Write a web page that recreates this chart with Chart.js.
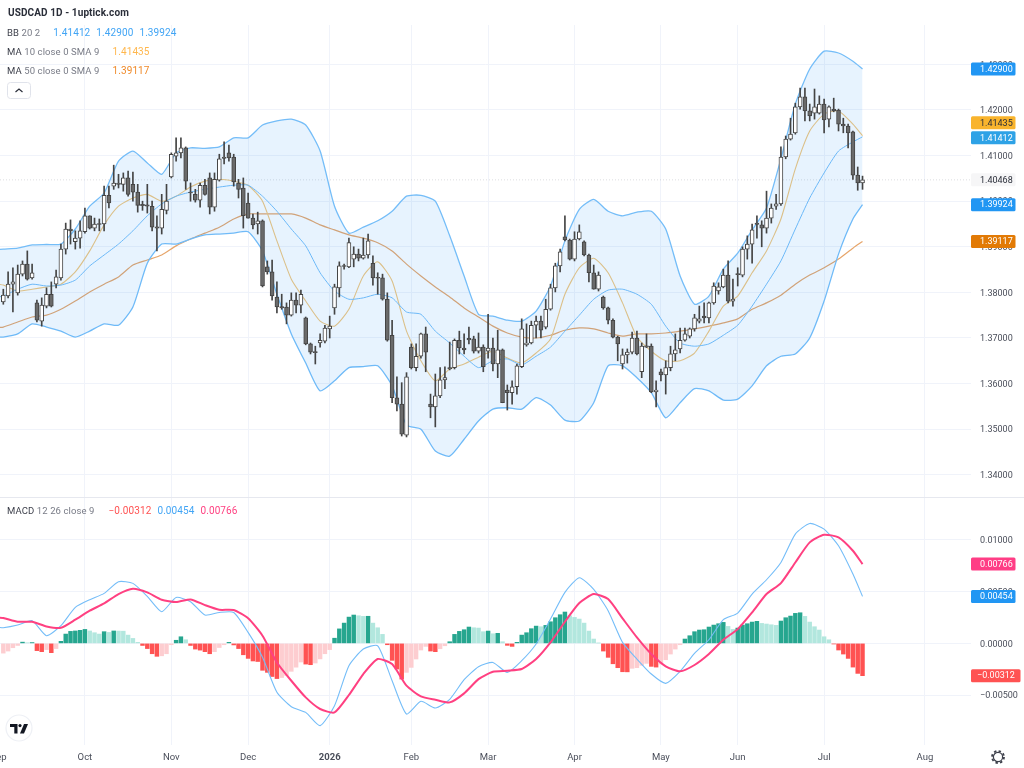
<!DOCTYPE html>
<html>
<head>
<meta charset="utf-8">
<title>USDCAD 1D</title>
<script src="https://cdn.jsdelivr.net/npm/chart.js@4"></script>
<style>
  html, body { margin: 0; padding: 0; background: #fff; }
  body { width: 1024px; height: 768px; position: relative; overflow: hidden; font-family: Roboto, sans-serif; }
  canvas { position: absolute; left: 0; }
  #priceChart { top: 0; }
  #macdChart { top: 497px; }
  .divider { position: absolute; left: 0; top: 497px; width: 1024px; height: 1px; background: #e6e8ef; }
  .legend { position: absolute; left: 7px; font-size: 9.5px; line-height: 12px; color: #787b86; white-space: pre; letter-spacing: 0.1px; }
  .legend b { font-weight: 400; color: #3c3f4a; }
  .legend span { display: inline-block; font-size: 10px; }
  .title { font-weight: 700; font-size: 10px; color: #2a2e39; left: 8px; top: 7px; }
  svg { position: absolute; }
</style>
</head>
<body>
<canvas id="priceChart" width="1024" height="497"></canvas>
<canvas id="macdChart" width="1024" height="271"></canvas>
<div class="divider"></div>

<div class="legend title">USDCAD 1D - 1uptick.com</div>
<div class="legend" style="top:27px"><b>BB</b> 20 2<span style="color:#42a5f5;margin-left:13px">1.41412</span><span style="color:#42a5f5;margin-left:6px">1.42900</span><span style="color:#42a5f5;margin-left:6px">1.39924</span></div>
<div class="legend" style="top:46px"><b>MA</b> 10 close 0 SMA 9<span style="color:#ffb74d;margin-left:13px">1.41435</span></div>
<div class="legend" style="top:65px"><b>MA</b> 50 close 0 SMA 9<span style="color:#ef8a2a;margin-left:13px">1.39117</span></div>
<div class="legend" style="top:505px"><b>MACD</b> 12 26 close 9<span style="color:#ff5252;margin-left:14px">−0.00312</span><span style="color:#42a5f5;margin-left:6px">0.00454</span><span style="color:#ff4081;margin-left:6px">0.00766</span></div>

<svg style="left:7px;top:82px" width="24" height="17">
  <rect x="0.5" y="0.5" width="23" height="16" rx="3" fill="#fff" stroke="#e0e3eb"/>
  <polyline points="8.5,10 12,7 15.5,10" fill="none" stroke="#2a2e39" stroke-width="1.2"/>
</svg>
<svg style="left:5px;top:714px" width="28" height="28">
  <circle cx="14" cy="14" r="13" fill="#fff" stroke="#eef0f5" stroke-width="1.2"/>
  <path d="M5 10h7.5v9.5h-3.2v-6.4H5z" fill="#131722"/>
  <circle cx="15" cy="11.6" r="1.6" fill="#131722"/>
  <path d="M19 10h4l-4 9.5h-4z" fill="#131722"/>
</svg>
<svg style="left:990px;top:749px" width="16" height="16">
  <circle cx="8" cy="8" r="4.6" fill="none" stroke="#3c3f4a" stroke-width="1.2"/>
  <circle cx="8" cy="8" r="6" fill="none" stroke="#3c3f4a" stroke-width="1.8" stroke-dasharray="2.4 2.3"/>
</svg>

<script>
// daily candles, one entry per session
const opens = [
  1.3779,1.3792,1.3818,1.3799,1.3840,1.3862,1.3832,1.3777,1.3737,1.3770,
  1.3796,1.3818,1.3832,1.3895,1.3939,1.3911,1.3919,1.3933,1.3968,1.3941,
  1.3951,1.3950,1.4013,1.4033,1.4040,1.4037,1.4051,1.4037,1.4020,1.3993,
  1.3992,1.3989,1.3944,1.3941,1.3980,1.4053,1.4099,1.4106,1.4117,1.4020,
  1.4015,1.4002,1.4035,1.4051,1.3987,1.4046,1.4097,1.4106,1.4097,1.4040,
  1.4029,1.3996,1.3963,1.3950,1.3957,1.3856,1.3845,1.3790,1.3769,1.3768,
  1.3750,1.3783,1.3772,1.3744,1.3687,1.3670,1.3689,1.3693,1.3720,1.3766,
  1.3810,1.3859,1.3856,1.3873,1.3884,1.3875,1.3882,1.3864,1.3833,1.3832,
  1.3785,1.3706,1.3569,1.3555,1.3487,1.3680,1.3635,1.3660,1.3709,1.3555,
  1.3549,1.3573,1.3608,1.3635,1.3635,1.3695,1.3678,1.3699,1.3698,1.3671,
  1.3680,1.3671,1.3678,1.3643,1.3674,1.3586,1.3580,1.3593,1.3637,1.3685,
  1.3689,1.3728,1.3737,1.3724,1.3763,1.3810,1.3858,1.3922,1.3915,1.3873,
  1.3917,1.3911,1.3882,1.3843,1.3807,1.3790,1.3766,1.3739,1.3702,1.3643,
  1.3663,1.3669,1.3700,1.3626,1.3683,1.3682,1.3582,1.3626,1.3619,1.3635,
  1.3665,1.3676,1.3695,1.3704,1.3720,1.3737,1.3748,1.3744,1.3777,1.3803,
  1.3812,1.3838,1.3781,1.3841,1.3838,1.3895,1.3906,1.3952,1.3948,1.3941,
  1.3963,1.3989,1.3994,1.4097,1.4136,1.4150,1.4207,1.4229,1.4198,1.4193,
  1.4193,1.4213,1.4180,1.4202,1.4200,1.4169,1.4165,1.4152,1.4057,1.4040
];
const highs = [
  1.3807,1.3845,1.3854,1.3860,1.3869,1.3891,1.3862,1.3783,1.3788,1.3810,
  1.3823,1.3849,1.3906,1.3952,1.3959,1.3935,1.3957,1.3985,1.3968,1.3963,
  1.3961,1.4033,1.4033,1.4079,1.4059,1.4062,1.4066,1.4064,1.4037,1.4000,
  1.4037,1.4000,1.3968,1.4015,1.4037,1.4106,1.4139,1.4139,1.4119,1.4040,
  1.4026,1.4040,1.4048,1.4062,1.4062,1.4103,1.4130,1.4123,1.4103,1.4048,
  1.4051,1.4018,1.3972,1.3976,1.3959,1.3869,1.3871,1.3823,1.3796,1.3777,
  1.3799,1.3799,1.3805,1.3746,1.3689,1.3682,1.3709,1.3728,1.3748,1.3818,
  1.3867,1.3862,1.3919,1.3900,1.3895,1.3919,1.3928,1.3880,1.3843,1.3840,
  1.3799,1.3739,1.3615,1.3602,1.3624,1.3687,1.3687,1.3711,1.3724,1.3577,
  1.3621,1.3635,1.3637,1.3691,1.3698,1.3715,1.3709,1.3724,1.3704,1.3711,
  1.3685,1.3752,1.3700,1.3717,1.3676,1.3597,1.3606,1.3643,1.3742,1.3731,
  1.3737,1.3748,1.3748,1.3785,1.3818,1.3864,1.3895,1.3968,1.3917,1.3933,
  1.3948,1.3913,1.3884,1.3860,1.3845,1.3792,1.3768,1.3742,1.3704,1.3676,
  1.3676,1.3713,1.3715,1.3689,1.3709,1.3687,1.3606,1.3632,1.3650,1.3682,
  1.3709,1.3722,1.3722,1.3722,1.3752,1.3770,1.3777,1.3779,1.3821,1.3821,
  1.3851,1.3869,1.3829,1.3854,1.3900,1.3924,1.3950,1.3968,1.3957,1.4022,
  1.3994,1.4015,1.4119,1.4143,1.4182,1.4215,1.4248,1.4248,1.4213,1.4246,
  1.4231,1.4224,1.4209,1.4226,1.4202,1.4182,1.4169,1.4154,1.4075,1.4055
];
const lows = [
  1.3774,1.3788,1.3757,1.3794,1.3836,1.3827,1.3829,1.3735,1.3726,1.3766,
  1.3768,1.3810,1.3827,1.3884,1.3906,1.3895,1.3897,1.3930,1.3939,1.3935,
  1.3935,1.3935,1.3985,1.4026,1.4029,1.4022,1.4011,1.4000,1.3976,1.3980,
  1.3974,1.3935,1.3891,1.3928,1.3972,1.4051,1.4088,1.4095,1.4026,1.4000,
  1.3998,1.3987,1.4013,1.3972,1.3978,1.4044,1.4082,1.4088,1.4033,1.4007,
  1.3941,1.3963,1.3939,1.3928,1.3812,1.3840,1.3783,1.3755,1.3763,1.3731,
  1.3748,1.3755,1.3755,1.3685,1.3665,1.3643,1.3680,1.3689,1.3700,1.3752,
  1.3790,1.3851,1.3854,1.3856,1.3869,1.3873,1.3875,1.3816,1.3796,1.3783,
  1.3693,1.3558,1.3540,1.3485,1.3483,1.3632,1.3628,1.3656,1.3626,1.3525,
  1.3505,1.3569,1.3589,1.3630,1.3632,1.3665,1.3665,1.3687,1.3667,1.3667,
  1.3626,1.3656,1.3628,1.3613,1.3558,1.3542,1.3555,1.3577,1.3635,1.3682,
  1.3687,1.3700,1.3700,1.3720,1.3761,1.3801,1.3845,1.3913,1.3871,1.3869,
  1.3915,1.3880,1.3823,1.3807,1.3803,1.3763,1.3731,1.3700,1.3650,1.3632,
  1.3645,1.3665,1.3663,1.3613,1.3679,1.3580,1.3549,1.3606,1.3577,1.3628,
  1.3650,1.3667,1.3693,1.3700,1.3715,1.3733,1.3733,1.3733,1.3774,1.3796,
  1.3810,1.3777,1.3770,1.3814,1.3834,1.3873,1.3864,1.3919,1.3900,1.3930,
  1.3952,1.3982,1.3991,1.4093,1.4134,1.4147,1.4202,1.4176,1.4176,1.4180,
  1.4191,1.4150,1.4163,1.4196,1.4154,1.4150,1.4117,1.4048,1.4024,1.4026
];
const closes = [
  1.3794,1.3818,1.3823,1.3840,1.3862,1.3829,1.3843,1.3739,1.3772,1.3796,
  1.3770,1.3834,1.3895,1.3939,1.3935,1.3919,1.3935,1.3968,1.3941,1.3950,
  1.3949,1.4013,1.3996,1.4040,1.4037,1.4051,1.4015,1.4020,1.3991,1.3990,
  1.3989,1.3943,1.3941,1.3982,1.4000,1.4103,1.4106,1.4117,1.4044,1.4018,
  1.4002,1.4035,1.4015,1.3987,1.4048,1.4093,1.4094,1.4095,1.4042,1.4026,
  1.3968,1.3963,1.3948,1.3957,1.3814,1.3845,1.3792,1.3768,1.3766,1.3750,
  1.3783,1.3772,1.3796,1.3687,1.3669,1.3668,1.3695,1.3722,1.3726,1.3812,
  1.3858,1.3857,1.3909,1.3884,1.3875,1.3882,1.3913,1.3832,1.3831,1.3785,
  1.3695,1.3569,1.3555,1.3489,1.3615,1.3635,1.3660,1.3709,1.3669,1.3549,
  1.3573,1.3608,1.3613,1.3632,1.3695,1.3678,1.3674,1.3696,1.3671,1.3680,
  1.3637,1.3678,1.3643,1.3674,1.3558,1.3580,1.3593,1.3639,1.3720,1.3689,
  1.3728,1.3737,1.3717,1.3763,1.3810,1.3858,1.3889,1.3915,1.3873,1.3917,
  1.3933,1.3882,1.3843,1.3807,1.3838,1.3766,1.3739,1.3702,1.3687,1.3663,
  1.3669,1.3700,1.3665,1.3682,1.3680,1.3582,1.3586,1.3619,1.3635,1.3665,
  1.3674,1.3695,1.3709,1.3720,1.3744,1.3742,1.3744,1.3777,1.3814,1.3812,
  1.3838,1.3781,1.3785,1.3839,1.3895,1.3906,1.3937,1.3949,1.3941,1.3963,
  1.3985,1.3994,1.4097,1.4136,1.4147,1.4207,1.4229,1.4198,1.4187,1.4207,
  1.4213,1.4178,1.4207,1.4198,1.4169,1.4165,1.4150,1.4057,1.4040,1.40468
];

// indicator lines are read every third session, starting just off the left edge
const lineBars = [
  -1,0,3,6,9,12,15,18,21,24,27,30,33,36,39,42,45,48,51,54,57,60,63,66,69,
  72,75,78,81,84,87,90,93,96,99,102,105,108,111,114,117,120,123,126,129,132,135,138,
  141,144,147,150,153,156,159,162,165,168,171,174,177,179
];
const bbUpper = [
  1.3894,1.3895,1.3897,1.3904,1.3905,1.3906,1.3939,1.3989,1.4018,1.4088,1.4110,1.4084,1.4059,1.4106,1.4117,1.4116,1.4119,1.4139,1.4139,1.4167,1.4176,1.4180,1.4167,1.4110,1.3989,
  1.3930,1.3943,1.3957,1.3978,1.4011,1.4013,1.4000,1.3924,1.3836,1.3752,1.3748,1.3739,1.3737,1.3759,1.3814,1.3913,1.3982,1.4004,1.3978,1.3968,1.3976,1.3978,1.3939,
  1.3836,1.3774,1.3792,1.3851,1.3886,1.3937,1.3985,1.4093,1.4213,1.4290,1.4329,1.4325,1.4307,1.42900
];
const bbMid = [
  1.3790,1.3792,1.3807,1.3818,1.3814,1.3816,1.3827,1.3858,1.3882,1.3906,1.3935,1.3968,1.3994,1.4011,1.4020,1.4026,1.4031,1.4035,1.4035,1.4011,1.3978,1.3939,1.3902,1.3843,1.3803,
  1.3785,1.3788,1.3796,1.3788,1.3757,1.3752,1.3715,1.3689,1.3660,1.3635,1.3650,1.3654,1.3641,1.3660,1.3680,1.3715,1.3750,1.3785,1.3805,1.3807,1.3796,1.3774,1.3726,
  1.3689,1.3682,1.3687,1.3706,1.3728,1.3770,1.3818,1.3869,1.3939,1.4007,1.4062,1.4110,1.4130,1.41412
];
const bbLower = [
  1.3702,1.3702,1.3709,1.3731,1.3724,1.3715,1.3702,1.3715,1.3731,1.3728,1.3768,1.3864,1.3906,1.3906,1.3917,1.3926,1.3928,1.3930,1.3933,1.3891,1.3796,1.3709,1.3645,1.3584,1.3606,
  1.3635,1.3637,1.3639,1.3595,1.3509,1.3500,1.3452,1.3441,1.3478,1.3518,1.3544,1.3547,1.3544,1.3569,1.3553,1.3520,1.3518,1.3558,1.3639,1.3639,1.3613,1.3580,1.3525,
  1.3558,1.3589,1.3584,1.3564,1.3566,1.3595,1.3639,1.3660,1.3665,1.3700,1.3781,1.3884,1.3961,1.39924
];
const ma10 = [
  1.3818,1.3816,1.3803,1.3807,1.3812,1.3818,1.3845,1.3891,1.3948,1.3989,1.4007,1.4015,1.4000,1.4011,1.4031,1.4044,1.4048,1.4044,1.4035,1.4000,1.3913,1.3829,1.3781,1.3737,1.3726,
  1.3763,1.3836,1.3867,1.3825,1.3715,1.3650,1.3606,1.3632,1.3643,1.3658,1.3671,1.3656,1.3645,1.3667,1.3698,1.3796,1.3854,1.3875,1.3843,1.3777,1.3702,1.3671,1.3650,
  1.3650,1.3667,1.3715,1.3770,1.3792,1.3843,1.3891,1.3961,1.4071,1.4154,1.4191,1.4198,1.4169,1.41435
];
const ma50 = [
  1.3723,1.3724,1.3735,1.3746,1.3750,1.3763,1.3781,1.3801,1.3818,1.3834,1.3860,1.3871,1.3882,1.3902,1.3917,1.3930,1.3943,1.3961,1.3972,1.3972,1.3972,1.3972,1.3963,1.3948,1.3937,
  1.3926,1.3919,1.3909,1.3891,1.3862,1.3836,1.3812,1.3790,1.3766,1.3746,1.3726,1.3711,1.3702,1.3700,1.3706,1.3717,1.3722,1.3720,1.3711,1.3704,1.3709,1.3709,1.3711,
  1.3715,1.3720,1.3726,1.3733,1.3742,1.3763,1.3777,1.3794,1.3818,1.3838,1.3854,1.3873,1.3897,1.39117
];

// MACD panel
const histogram = [
  -0.00094,-0.00074,-0.00042,-0.00020,0.00012,0.00006,0.00008,-0.00070,-0.00080,-0.00060,
  -0.00090,-0.00050,0.00020,0.00090,0.00116,0.00120,0.00126,0.00135,0.00120,0.00103,
  0.00090,0.00113,0.00106,0.00120,0.00119,0.00118,0.00080,0.00048,0.00010,-0.00020,
  -0.00050,-0.00100,-0.00125,-0.00120,-0.00100,-0.00013,0.00030,0.00064,0.00035,-0.00020,
  -0.00055,-0.00065,-0.00080,-0.00100,-0.00080,-0.00040,-0.00013,0.00010,-0.00015,-0.00050,
  -0.00110,-0.00145,-0.00170,-0.00175,-0.00260,-0.00280,-0.00320,-0.00340,-0.00330,-0.00310,
  -0.00270,-0.00230,-0.00180,-0.00200,-0.00206,-0.00190,-0.00150,-0.00100,-0.00060,0.00050,
  0.00140,0.00196,0.00254,0.00274,0.00267,0.00261,0.00262,0.00196,0.00151,0.00087,
  -0.00013,-0.00164,-0.00248,-0.00345,-0.00280,-0.00232,-0.00151,-0.00064,-0.00029,-0.00074,
  -0.00080,-0.00052,-0.00023,0.00016,0.00087,0.00116,0.00132,0.00158,0.00151,0.00148,
  0.00113,0.00119,0.00093,0.00097,0.00016,-0.00019,-0.00029,0.00010,0.00080,0.00103,
  0.00142,0.00167,0.00161,0.00174,0.00209,0.00248,0.00277,0.00303,0.00267,0.00251,
  0.00235,0.00196,0.00119,0.00042,0.00003,-0.00074,-0.00135,-0.00197,-0.00235,-0.00274,
  -0.00275,-0.00241,-0.00235,-0.00212,-0.00193,-0.00222,-0.00229,-0.00200,-0.00158,-0.00103,
  -0.00055,-0.00013,0.00042,0.00074,0.00113,0.00129,0.00132,0.00158,0.00177,0.00190,
  0.00203,0.00164,0.00135,0.00148,0.00177,0.00190,0.00206,0.00213,0.00193,0.00187,
  0.00180,0.00174,0.00216,0.00248,0.00264,0.00290,0.00296,0.00261,0.00206,0.00161,
  0.00129,0.00064,0.00035,-0.00006,-0.00064,-0.00103,-0.00145,-0.00229,-0.00290,-0.00312
];
const macdLine = [
  0.00155,0.00151,0.00177,0.00219,0.00074,0.00171,0.00348,0.00422,0.00483,0.00596,0.00580,0.00454,0.00306,0.00444,0.00403,0.00274,0.00299,0.00299,0.00106,-0.00135,-0.00473,-0.00612,-0.00667,-0.00795,-0.00602,
  -0.00216,-0.00055,-0.00023,-0.00361,-0.00683,-0.00560,-0.00625,-0.00541,-0.00351,-0.00225,-0.00184,-0.00280,-0.00167,-0.00006,0.00235,0.00493,0.00634,0.00522,0.00316,0.00010,-0.00151,-0.00296,-0.00386,
  -0.00270,-0.00097,0.00035,0.00229,0.00293,0.00477,0.00615,0.00782,0.01056,0.01159,0.01104,0.00943,0.00670,0.00454
];
const signalLine = [
  0.00248,0.00245,0.00209,0.00209,0.00164,0.00151,0.00229,0.00316,0.00386,0.00477,0.00528,0.00493,0.00422,0.00399,0.00425,0.00370,0.00325,0.00322,0.00242,0.00074,-0.00184,-0.00361,-0.00522,-0.00634,-0.00667,
  -0.00499,-0.00296,-0.00151,-0.00200,-0.00409,-0.00512,-0.00544,-0.00570,-0.00483,-0.00345,-0.00274,-0.00264,-0.00248,-0.00151,0.00010,0.00209,0.00390,0.00477,0.00428,0.00242,0.00058,-0.00103,-0.00222,
  -0.00270,-0.00209,-0.00103,0.00035,0.00138,0.00299,0.00477,0.00583,0.00782,0.00976,0.01050,0.01024,0.00895,0.00766
];

// axes
const priceTicks = [1.43, 1.42, 1.41, 1.40, 1.39, 1.38, 1.37, 1.36, 1.35, 1.34];
const macdTicks = [0.01, 0.005, 0, -0.005];
const monthBars = [-1, 17, 35, 51, 68, 85, 101, 119, 137, 153, 171, 192];
const monthLabels = ["Sep", "Oct", "Nov", "Dec", "2026", "Feb", "Mar", "Apr", "May", "Jun", "Jul", "Aug"];

// last-value tags on the right axis
const priceTagValues = [1.429, 1.41435, 1.41412, 1.40468, 1.39924, 1.39117];
const priceTagColors = ["#2196f3", "#f9b42d", "#2ea2e6", "#f6f6f7", "#2196f3", "#e27a05"];
const priceTagInk = ["#fff", "#2a2e39", "#fff", "#2a2e39", "#fff", "#fff"];
const priceTagShift = [0, -13, 1, 0, 0, 0];
const macdTagValues = [0.00766, 0.00454, -0.00312];
const macdTagColors = ["#ff3d85", "#2196f3", "#ff5252"];

const sessions = opens.map((_, i) => i);
const xMin = -0.69;
const xMax = 201.6;
const axisFont = { family: "Roboto, sans-serif", size: 9.5 };
const valueFont = { family: "Roboto, sans-serif", size: 9 };
const gridColor = "#f0f3fa";
const axisInk = "#4a4e5a";
const bandBlue = "#74bdf8";

function fmt(v) {
  return (v < 0 ? "−" : "") + Math.abs(v).toFixed(5);
}

function series(values) {
  return lineBars.map((bar, i) => ({ x: bar, y: values[i] }));
}

function lineSet(label, values, color, width, extra) {
  return Object.assign({
    type: "line",
    label: label,
    data: series(values),
    borderColor: color,
    borderWidth: width,
    pointRadius: 0,
    tension: 0.2,
    fill: false,
    order: 5
  }, extra || {});
}

// the tick labels must not push the plot area around
function clearPadding(scale) {
  scale.paddingTop = 0;
  scale.paddingBottom = 0;
  scale.paddingLeft = 0;
  scale.paddingRight = 0;
}

function xAxis(showLabels) {
  return {
    type: "linear",
    offset: false,
    min: xMin,
    max: xMax,
    afterBuildTicks: (scale) => { scale.ticks = monthBars.map((v) => ({ value: v })); },
    grid: { color: gridColor, lineWidth: 1, drawTicks: false, offset: false },
    border: { display: false },
    afterFit: (scale) => {
      scale.height = showLabels ? 23 : 0;
      clearPadding(scale);
    },
    ticks: {
      display: showLabels,
      autoSkip: false,
      maxRotation: 0,
      padding: 7,
      color: axisInk,
      font: (ctx) => (ctx.tick && ctx.tick.value === 68
        ? Object.assign({}, axisFont, { weight: "bold" })
        : axisFont),
      callback: (v) => monthLabels[monthBars.indexOf(v)]
    }
  };
}

function yAxis(min, max, tickValues) {
  return {
    position: "right",
    min: min,
    max: max,
    afterBuildTicks: (scale) => { scale.ticks = tickValues.map((v) => ({ value: v })); },
    afterFit: (scale) => {
      scale.width = 53;
      clearPadding(scale);
    },
    grid: { color: gridColor, lineWidth: 1, drawTicks: false },
    border: { display: false },
    ticks: {
      padding: 9,
      labelOffset: 1,
      color: axisInk,
      font: valueFont,
      crossAlign: "near",
      callback: (v) => fmt(v)
    }
  };
}

// price boxes over the right axis
function tagPlugin(values, colors, inks, shifts, right) {
  return {
    id: "lastValueTags",
    afterDraw(chart) {
      const c = chart.ctx;
      const y = chart.scales.y;
      c.save();
      c.font = "9px Roboto, sans-serif";
      c.textBaseline = "middle";
      values.forEach((v, i) => {
        const py = y.getPixelForValue(v) + (shifts ? shifts[i] : 0);
        const r = v < 0 ? right + 5 : right;
        c.fillStyle = colors[i];
        c.beginPath();
        c.roundRect(971, py - 6.5, r - 971, 13, 1.5);
        c.fill();
        c.fillStyle = inks ? inks[i] : "#fff";
        c.fillText(fmt(v), v < 0 ? 977 : 980, py + 0.5);
      });
      c.restore();
    }
  };
}

new Chart(document.getElementById("priceChart"), {
  data: {
    datasets: [
      lineSet("BB upper", bbUpper, bandBlue, 1.3, {
        fill: { target: 2, above: "rgba(33,150,243,0.11)", below: "rgba(33,150,243,0.11)" }
      }),
      lineSet("BB mid", bbMid, bandBlue, 1),
      lineSet("BB lower", bbLower, bandBlue, 1.3),
      lineSet("MA 10", ma10, "#f2c67c", 1.1),
      lineSet("MA 50", ma50, "#e6a56a", 1.2),
      {
        type: "line",
        label: "last",
        data: [{ x: xMin, y: closes[closes.length - 1] }, { x: xMax, y: closes[closes.length - 1] }],
        borderColor: "rgba(120,123,134,0.25)",
        borderWidth: 1,
        borderDash: [1, 2],
        pointRadius: 0,
        order: 6
      },
      {
        type: "bar",
        label: "wick",
        data: sessions.map((i) => ({ x: i, y: [lows[i], highs[i]] })),
        backgroundColor: "#444444",
        barThickness: 1,
        grouped: false,
        order: 2
      },
      {
        type: "bar",
        label: "body",
        data: sessions.map((i) => ({ x: i, y: [opens[i], closes[i]] })),
        backgroundColor: sessions.map((i) => (closes[i] >= opens[i] ? "#ffffff" : "#6a6a6a")),
        borderColor: "#444444",
        borderWidth: 1,
        borderSkipped: false,
        barThickness: 4,
        grouped: false,
        order: 1
      }
    ]
  },
  options: {
    responsive: false,
    animation: false,
    events: [],
    layout: { autoPadding: false, padding: { top: 25, left: 0, right: 0, bottom: 0 } },
    plugins: { legend: { display: false }, tooltip: { enabled: false } },
    scales: {
      x: xAxis(false),
      y: yAxis(1.33513, 1.43864, priceTicks)
    }
  },
  plugins: [tagPlugin(priceTagValues, priceTagColors, priceTagInk, priceTagShift, 1015.5)]
});

new Chart(document.getElementById("macdChart"), {
  data: {
    datasets: [
      lineSet("MACD", macdLine, bandBlue, 1.1, { order: 2 }),
      lineSet("Signal", signalLine, "#ff4081", 2, { order: 1 }),
      {
        type: "bar",
        label: "Histogram",
        data: sessions.map((i) => ({ x: i, y: histogram[i] })),
        backgroundColor: sessions.map((i) => {
          const rising = i === 0 || histogram[i] > histogram[i - 1];
          if (histogram[i] >= 0) return rising ? "#26a68f" : "#b2e7de";
          return rising ? "#fdcdd0" : "#ff5252";
        }),
        barThickness: 3.8,
        grouped: false,
        order: 3
      }
    ]
  },
  options: {
    responsive: false,
    animation: false,
    events: [],
    layout: { autoPadding: false, padding: { top: 1, left: 0, right: 0, bottom: 0 } },
    plugins: { legend: { display: false }, tooltip: { enabled: false } },
    scales: {
      x: xAxis(true),
      y: yAxis(-0.00982, 0.01405, macdTicks)
    }
  },
  plugins: [tagPlugin(macdTagValues, macdTagColors, null, null, 1015.5)]
});
</script>
</body>
</html>
